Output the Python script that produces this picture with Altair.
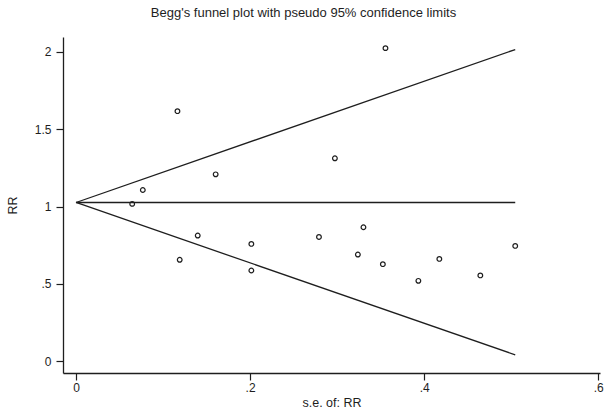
import altair as alt
import pandas as pd

# Study points
se_vals = [0.1165, 0.1604, 0.0767, 0.0645, 0.1398, 0.2014, 0.1191, 0.2014, 0.3555,
           0.2974, 0.3302, 0.2791, 0.3238, 0.3525, 0.4174, 0.3933, 0.4645, 0.5046]
rr_vals = [1.617, 1.208, 1.107, 1.017, 0.812, 0.758, 0.655, 0.586, 2.025,
           1.312, 0.866, 0.803, 0.689, 0.627, 0.661, 0.519, 0.554, 0.745]

# Funnel lines (endpoints)
line_se = [0.0, 0.5046]
upper_rr = [1.026, 2.016]
center_rr = [1.026, 1.026]
lower_rr = [1.026, 0.040]

x_ticks = [0, 0.2, 0.4, 0.6]
y_ticks = [0, 0.5, 1, 1.5, 2]

pts = pd.DataFrame({"se": se_vals, "rr": rr_vals})
lines = pd.DataFrame({
    "se": line_se * 3,
    "rr": upper_rr + center_rr + lower_rr,
    "series": ["upper"] * 2 + ["center"] * 2 + ["lower"] * 2,
})

FONT = "Liberation Sans"
INK = "#1e1e1e"
lab_expr = "datum.value == 0 ? '0' : replace(toString(datum.value), '0.', '.')"

x_scale = alt.Scale(domain=[-0.015, 0.602], nice=False, zero=False)
y_scale = alt.Scale(domain=[-0.0775, 2.097], nice=False, zero=False)

x_axis = alt.Axis(values=x_ticks, labelExpr=lab_expr, title="s.e. of: RR", grid=False,
                  tickSize=7, tickWidth=1.2, tickColor=INK, domainColor=INK, domainWidth=1.3,
                  labelFont=FONT, labelFontSize=12, labelColor=INK, labelPadding=2,
                  titleFont=FONT, titleFontSize=12.5, titleFontWeight="normal", titleColor=INK,
                  titleY=33, titleBaseline="alphabetic")
y_axis = alt.Axis(values=y_ticks, labelExpr=lab_expr, title="RR", grid=False,
                  tickSize=7, tickWidth=1.2, tickColor=INK, domainColor=INK, domainWidth=1.3,
                  labelFont=FONT, labelFontSize=12, labelColor=INK, labelPadding=5,
                  titleFont=FONT, titleFontSize=12.5, titleFontWeight="normal", titleColor=INK,
                  titleX=-44, titleY=168, titleBaseline="bottom")

line_layer = alt.Chart(lines).mark_line(color=INK, strokeWidth=1.3).encode(
    x=alt.X("se:Q", scale=x_scale, axis=x_axis),
    y=alt.Y("rr:Q", scale=y_scale, axis=y_axis),
    detail="series:N",
)

pt_layer = alt.Chart(pts).mark_point(shape="circle", filled=False, size=22, strokeWidth=1.2,
                                     color=INK, opacity=1).encode(
    x=alt.X("se:Q", scale=x_scale),
    y=alt.Y("rr:Q", scale=y_scale),
)

chart = alt.layer(line_layer, pt_layer).properties(
    width=537,
    height=336,
    title=alt.TitleParams("Begg's funnel plot with pseudo 95% confidence limits",
                          font=FONT, fontSize=13, fontWeight="normal", color=INK,
                          anchor="middle", baseline="alphabetic", offset=7, dx=-28),
    padding={"left": 63, "top": 37, "right": 8, "bottom": 37},
    autosize=alt.AutoSizeParams(type="none"),
    background="white",
).configure_view(stroke=None)

chart.save("out.html", embed_options={"renderer": "svg", "actions": False})
